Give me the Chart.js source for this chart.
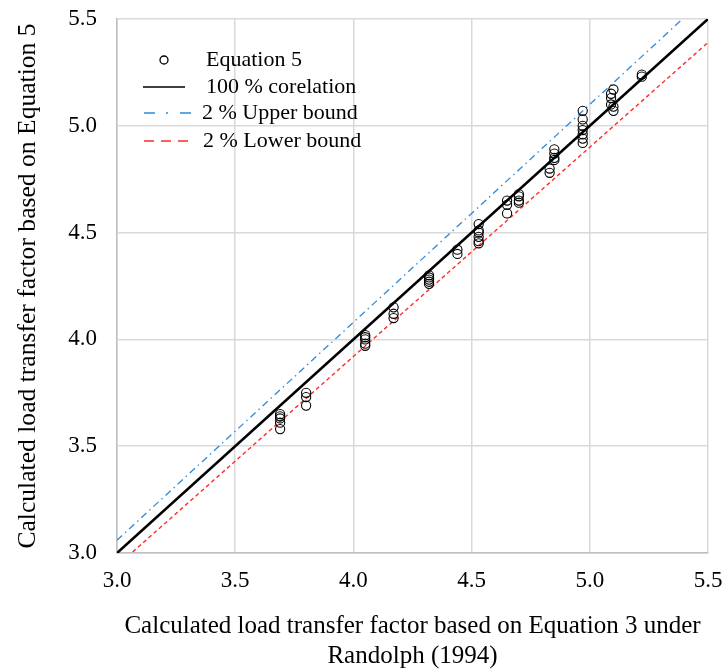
<!DOCTYPE html>
<html>
<head>
<meta charset="utf-8">
<script src="https://cdn.jsdelivr.net/npm/chart.js@4/dist/chart.umd.min.js"></script>
<style>
  html, body { margin: 0; padding: 0; background: #ffffff; }
  #wrap { width: 722px; height: 671px; }
</style>
</head>
<body>
<div id="wrap"><canvas id="c" width="722" height="671"></canvas></div>
<script>
// ---- data ----
const eq3Values = [
  3.69, 3.69, 3.69, 3.69, 3.69,
  3.80, 3.80, 3.80,
  4.05, 4.05, 4.05, 4.05, 4.05,
  4.17, 4.17, 4.17,
  4.32, 4.32, 4.32, 4.32, 4.32,
  4.44, 4.44,
  4.53, 4.53, 4.53, 4.53, 4.53, 4.53,
  4.65, 4.65, 4.65,
  4.70, 4.70, 4.70, 4.70,
  4.83, 4.83,
  4.85, 4.85, 4.85, 4.85,
  4.97, 4.97, 4.97, 4.97, 4.97, 4.97, 4.97,
  5.09, 5.09, 5.09,
  5.10, 5.10, 5.10,
  5.22, 5.22
];
const eq5Values = [
  3.65, 3.64, 3.63, 3.61, 3.58,
  3.75, 3.73, 3.69,
  4.02, 4.01, 4.00, 3.98, 3.97,
  4.15, 4.12, 4.10,
  4.30, 4.29, 4.28, 4.27, 4.26,
  4.42, 4.40,
  4.54, 4.51, 4.50, 4.48, 4.46, 4.45,
  4.65, 4.63, 4.59,
  4.68, 4.67, 4.65, 4.64,
  4.80, 4.78,
  4.89, 4.87, 4.85, 4.84,
  5.07, 5.03, 5.00, 4.98, 4.96, 4.94, 4.92,
  5.15, 5.13, 5.10,
  5.17, 5.09, 5.07,
  5.24, 5.23
];
const corelationX = [3.0, 5.5];
const corelationY = [3.0, 5.5];
const upperX = [3.0, 5.5];
const upperY = [3.06, 5.61];
const lowerX = [3.0, 5.5];
const lowerY = [2.94, 5.39];
const axisTicks = [3.0, 3.5, 4.0, 4.5, 5.0, 5.5];
const seriesLabels = ['Equation 5', '100 % corelation', '2 % Upper bound', '2 % Lower bound'];
const xTitle = ['Calculated load transfer factor based on Equation 3 under', 'Randolph (1994)'];
const yTitle = 'Calculated load transfer factor based on Equation 5';

const pts = (xs, ys) => xs.map((x, i) => ({ x: x, y: ys[i] }));

const FONT = "'Liberation Serif', 'Times New Roman', serif";

const legendPlugin = {
  id: 'insideLegend',
  afterDraw(chart) {
    const ctx = chart.ctx;
    ctx.save();
    ctx.font = '22px ' + FONT;
    ctx.fillStyle = '#000';
    ctx.textBaseline = 'middle';
    ctx.textAlign = 'left';
    const rows = [60, 87, 113, 141];
    const labelX = [206, 206, 202, 203];
    ctx.beginPath();
    ctx.arc(164, rows[0], 4, 0, Math.PI * 2);
    ctx.lineWidth = 1.3;
    ctx.strokeStyle = '#000';
    ctx.stroke();
    const ds = chart.data.datasets;
    const drawSample = (y, x0, x1, d, dash, w) => {
      ctx.beginPath();
      ctx.setLineDash(dash);
      ctx.strokeStyle = d.borderColor;
      ctx.lineWidth = w;
      ctx.moveTo(x0, y); ctx.lineTo(x1, y);
      ctx.stroke();
    };
    drawSample(rows[1], 143, 185, ds[1], [], 1.5);
    drawSample(rows[2], 144, 191, ds[2], [11, 11, 2, 12], 1.3);
    drawSample(rows[3], 144, 188, ds[3], [10, 7], 1.3);
    ctx.setLineDash([]);
    seriesLabels.forEach((t, i) => ctx.fillText(t, labelX[i], rows[i]));
    ctx.restore();
  }
};

new Chart(document.getElementById('c'), {
  type: 'scatter',
  data: {
    datasets: [
      {
        label: seriesLabels[0],
        data: pts(eq3Values, eq5Values),
        pointStyle: 'circle',
        pointRadius: 4.6,
        pointHoverRadius: 4.6,
        pointBorderWidth: 1.1,
        pointBorderColor: '#000',
        pointBackgroundColor: 'rgba(0,0,0,0)',
        borderColor: '#000',
        order: 0
      },
      {
        label: seriesLabels[1],
        type: 'line',
        data: pts(corelationX, corelationY),
        borderColor: '#000000',
        borderWidth: 2.6,
        pointRadius: 0,
        fill: false,
        order: 1
      },
      {
        label: seriesLabels[2],
        type: 'line',
        data: pts(upperX, upperY),
        borderColor: '#2e8ad8',
        borderWidth: 1.3,
        borderDash: [7, 4, 1.5, 4],
        pointRadius: 0,
        fill: false,
        order: 2
      },
      {
        label: seriesLabels[3],
        type: 'line',
        data: pts(lowerX, lowerY),
        borderColor: '#ff2a2a',
        borderWidth: 1.4,
        borderDash: [4, 3],
        pointRadius: 0,
        fill: false,
        order: 3
      }
    ]
  },
  options: {
    responsive: false,
    animation: false,
    devicePixelRatio: 1,
    layout: { padding: { top: 19, right: 14, left: 0, bottom: 0 } },
    plugins: {
      legend: { display: false },
      tooltip: { enabled: false }
    },
    scales: {
      x: {
        type: 'linear',
        min: 3.0, max: 5.5,
        afterBuildTicks: (s) => { s.ticks = axisTicks.map(v => ({ value: v })); },
        afterFit: (s) => { s.height = 118; s.paddingLeft = 0; s.paddingRight = 0; },
        grid: { color: '#d9d9d9', lineWidth: 1.5, drawTicks: false },
        border: { display: true, color: '#bfbfbf', width: 1.5 },
        ticks: {
          padding: 14,
          color: '#000',
          font: { family: FONT, size: 23 },
          callback: (v) => Number(v).toFixed(1)
        },
        title: {
          display: true,
          text: xTitle,
          color: '#000',
          font: { family: FONT, size: 25, lineHeight: 1.2 },
          padding: { top: 0, bottom: 0 }
        }
      },
      y: {
        type: 'linear',
        min: 3.0, max: 5.5,
        afterBuildTicks: (s) => { s.ticks = axisTicks.map(v => ({ value: v })); },
        afterFit: (s) => { s.width = 117; s.paddingTop = 0; s.paddingBottom = 0; },
        grid: { color: '#d9d9d9', lineWidth: 1.5, drawTicks: false },
        border: { display: true, color: '#bfbfbf', width: 1.5 },
        ticks: {
          padding: 20,
          color: '#000',
          font: { family: FONT, size: 23 },
          callback: (v) => Number(v).toFixed(1)
        },
        title: {
          display: true,
          text: yTitle,
          color: '#000',
          font: { family: FONT, size: 25.6, lineHeight: 1.17 },
          padding: { top: 13, bottom: 0 }
        }
      }
    }
  },
  plugins: [legendPlugin]
});
</script>
</body>
</html>
